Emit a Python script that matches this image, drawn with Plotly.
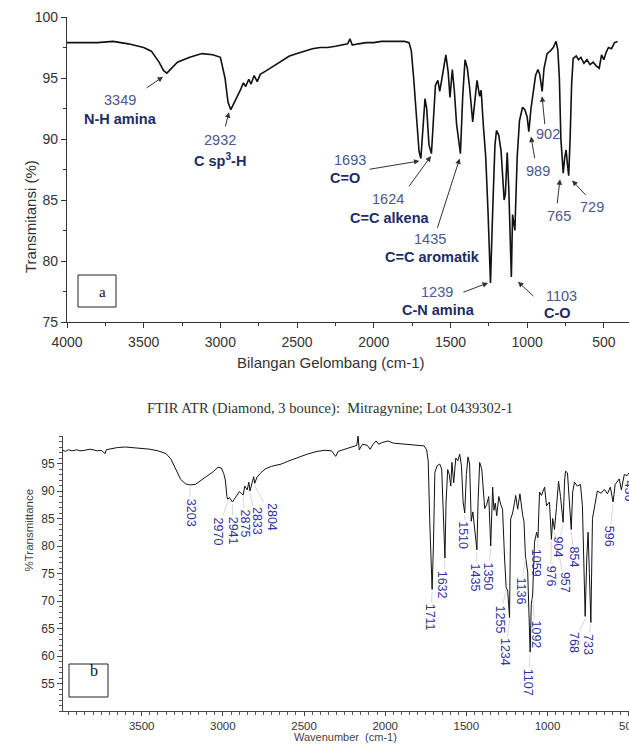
import numpy as np
import plotly.graph_objects as go

W, H = 629, 751

# ---------------- Spectrum (a): wavenumber (cm-1) vs transmittance (%) ----------------
a_wn = [4000, 3900, 3800, 3700, 3600, 3500, 3450, 3400, 3370, 3349, 3320, 3280, 3200, 3120,
        3050, 3000, 2970, 2950, 2932, 2915, 2890, 2870, 2850, 2835, 2815, 2800, 2780, 2760,
        2740, 2700, 2650, 2600, 2550, 2500, 2450, 2400, 2350, 2300, 2250, 2200, 2170, 2155,
        2140, 2100, 2050, 2000, 1950, 1900, 1850, 1800, 1770, 1755, 1740, 1720, 1705, 1693,
        1680, 1666, 1655, 1640, 1624, 1610, 1598, 1582, 1570, 1555, 1530, 1515, 1503, 1488,
        1475, 1460, 1445, 1435, 1420, 1405, 1390, 1375, 1355, 1340, 1327, 1310, 1300, 1285,
        1270, 1255, 1239, 1225, 1210, 1200, 1185, 1170, 1150, 1142, 1130, 1120, 1103, 1095,
        1088, 1080, 1065, 1050, 1030, 1015, 1000, 989, 975, 960, 945, 930, 918, 902, 890,
        870, 850, 830, 812, 800, 790, 780, 765, 755, 746, 738, 729, 720, 710, 700, 680, 665,
        650, 630, 610, 590, 570, 550, 530, 515, 500, 485, 470, 450, 430, 410]
a_T = [97.9, 97.9, 97.9, 98.0, 97.8, 97.5, 97.2, 96.3, 95.6, 95.4, 95.8, 96.3, 96.7, 97.0,
       96.9, 96.7, 95.0, 93.0, 92.4, 92.8, 93.5, 94.0, 94.6, 94.3, 94.9, 94.5, 95.2, 94.7,
       95.3, 95.6, 96.0, 96.4, 96.8, 97.0, 97.2, 97.4, 97.5, 97.5, 97.6, 97.7, 97.8, 98.2,
       97.7, 97.8, 97.9, 97.9, 98.0, 98.0, 98.0, 98.0, 97.9, 97.2, 95.0, 91.5, 89.0, 88.4,
       90.5, 93.3, 92.5, 89.5, 88.8, 91.5, 94.4, 94.8, 93.9, 95.0, 96.9, 95.5, 93.4, 95.7,
       94.0, 91.2, 89.5, 88.8, 93.5, 96.5, 95.8, 94.2, 91.4, 93.0, 94.8, 93.5, 94.0, 91.0,
       88.5, 84.0, 78.2, 84.0, 89.5, 90.7, 90.3, 89.0, 85.0, 85.5, 88.9, 86.0, 78.7, 83.8,
       83.0, 82.5, 88.5, 91.5, 92.6, 92.4, 91.8, 90.6, 92.5, 94.0, 95.2, 95.7, 95.3, 93.9, 95.8,
       97.0, 97.2, 97.5, 98.0, 97.3, 95.0, 90.0, 87.2, 88.5, 89.1, 88.0, 87.0, 90.0, 94.5, 96.6,
       96.8, 96.5, 96.7, 96.2, 96.5, 96.1, 96.3, 96.0, 95.8, 96.9, 96.5, 97.1, 97.5, 97.4, 97.9,
       98.0]

# Peak assignments for spectrum (a)
a_peaks = [3349, 2932, 1693, 1624, 1435, 1239, 1103, 989, 902, 765, 729]
a_groups = ["N-H amina", "C sp<sup>3</sup>-H", "C=O", "C=C alkena", "C=C aromatik",
            "C-N amina", "C-O", "", "", "", ""]

# ---------------- Spectrum (b): Mitragynine, FTIR ATR ----------------
b_wn = [3985, 3970, 3950, 3930, 3900, 3880, 3850, 3820, 3800, 3775, 3750, 3725, 3718, 3700,
        3650, 3600, 3550, 3500, 3450, 3400, 3350, 3320, 3290, 3260, 3230, 3203, 3170, 3130,
        3100, 3060, 3030, 3010, 2995, 2985, 2975, 2970, 2960, 2950, 2941, 2930, 2915, 2898,
        2885, 2875, 2865, 2850, 2840, 2833, 2820, 2810, 2804, 2790, 2770, 2740, 2700, 2640,
        2600, 2540, 2480, 2420, 2370, 2330, 2305, 2290, 2250, 2200, 2175, 2167, 2160, 2140,
        2110, 2093, 2075, 2056, 2040, 2020, 1983, 1950, 1900, 1850, 1800, 1760, 1745, 1735,
        1725, 1711, 1703, 1694, 1680, 1664, 1652, 1642, 1632, 1625, 1615, 1605, 1596, 1589,
        1578, 1565, 1553, 1541, 1530, 1520, 1510, 1500, 1490, 1480, 1470, 1460, 1450, 1442,
        1435, 1428, 1418, 1405, 1395, 1387, 1375, 1362, 1350, 1338, 1330, 1322, 1313, 1300,
        1288, 1277, 1265, 1255, 1245, 1234, 1227, 1215, 1203, 1196, 1184, 1170, 1153, 1145,
        1136, 1122, 1107, 1100, 1092, 1080, 1067, 1059, 1049, 1037, 1018, 1006, 988, 976,
        968, 957, 945, 932, 920, 904, 895, 889, 877, 865, 854, 845, 834, 816, 797, 785, 768,
        758, 750, 742, 733, 723, 711, 693, 670, 650, 631, 613, 596, 583, 558, 545, 527, 510,
        498]
b_T = [97.4, 97.2, 97.5, 97.3, 97.5, 97.3, 97.4, 97.6, 97.5, 97.3, 97.4, 96.8, 97.5, 97.6,
       97.9, 98.0, 97.9, 97.8, 97.6, 97.3, 96.8, 95.8, 93.8, 92.1, 91.3, 91.1, 91.2, 92.0,
       92.6, 93.5, 94.3, 94.2, 93.2, 92.0, 89.0, 88.5, 88.8, 88.3, 88.0, 88.5, 89.2, 89.9,
       89.5, 89.3, 90.9, 90.2, 91.6, 90.0, 91.5, 92.6, 91.4, 92.5, 93.2, 94.0, 94.5, 94.9,
       95.4, 96.1, 96.7, 97.2, 97.4, 97.3, 96.3, 97.2, 97.6, 98.1, 98.3, 100.0, 97.5, 98.5,
       98.3, 97.6, 98.5, 99.1, 98.5, 98.8, 99.1, 98.7, 98.6, 98.5, 98.4, 98.2, 97.5, 95.5,
       84.0, 72.1, 80.0, 93.4, 94.6, 94.9, 94.0, 85.0, 77.8, 88.0, 93.9, 93.0, 90.9, 95.2,
       91.5, 96.0, 95.5, 96.7, 94.5, 88.0, 86.0, 93.0, 96.2, 94.9, 84.5, 86.2, 83.8, 81.5,
       79.3, 88.0, 95.2, 94.0, 89.5, 86.8, 87.5, 89.0, 80.0, 90.7, 86.5, 87.8, 85.5, 89.0,
       87.5, 86.7, 78.0, 72.5, 71.8, 67.0, 84.9, 86.0, 87.9, 89.2, 86.7, 89.5, 85.6, 84.5,
       78.1, 75.2, 60.7, 69.5, 70.9, 80.7, 82.5, 81.5, 89.8, 89.2, 90.7, 87.3, 88.0, 81.2,
       85.0, 83.0, 87.0, 91.8, 89.0, 84.3, 91.8, 93.6, 93.3, 88.0, 83.0, 89.8, 91.6, 90.9,
       91.2, 87.3, 67.2, 78.0, 82.5, 75.0, 66.1, 85.0, 87.3, 90.0, 89.6, 90.3, 89.5, 90.7,
       88.0, 91.2, 92.2, 90.2, 93.0, 92.8, 93.3]

# Picked peaks for spectrum (b)
b_peaks = [3203, 2970, 2941, 2875, 2833, 2804, 1711, 1632, 1510, 1435, 1350, 1255, 1234,
           1136, 1107, 1092, 1059, 976, 957, 904, 854, 768, 733, 596]

TITLE_B = "FTIR ATR (Diamond, 3 bounce):  Mitragynine; Lot 0439302-1"


def px(x):
    return x / W


def py(y):
    return 1 - y / H


SANS = "Liberation Sans, Arial, sans-serif"
SERIF = "Liberation Serif, Times New Roman, serif"

fig = go.Figure()
fig.add_trace(go.Scatter(x=a_wn, y=a_T, mode="lines", xaxis="x", yaxis="y",
                         line=dict(color="#111111", width=1.6), showlegend=False))
fig.add_trace(go.Scatter(x=b_wn, y=b_T, mode="lines", xaxis="x2", yaxis="y2",
                         line=dict(color="#111111", width=1.0), showlegend=False))

annotations = []
shapes = []

# ---- labels and arrows of spectrum (a) ----
# (number position, group position, arrow tail, arrow head) in data units
a_layout = {
    3349: ((3654, 93.2), (3654, 91.6), (3491, 94.1), (3374, 95.1)),
    2932: ((3002, 89.9), (3002, 88.3), (2970, 90.9), (2944, 92.2)),
    1693: ((2155, 88.3), (2187, 86.8), (2037, 87.5), (1702, 88.2)),
    1624: ((1907, 85.1), (1894, 83.5), (1777, 86.0), (1627, 88.6)),
    1435: ((1633, 81.8), (1620, 80.3), (1588, 82.6), (1440, 88.4)),
    1239: ((1588, 77.5), (1581, 76.0), (1425, 77.4), (1255, 78.2)),
    1103: ((773, 77.1), (799, 75.7), (949, 77.0), (1060, 78.3)),
    989: ((929, 87.4), None, (949, 88.3), (975, 90.2)),
    902: ((864, 90.4), None, (884, 91.1), (903, 93.5)),
    765: ((792, 83.7), None, (805, 84.6), (786, 86.7)),
    729: ((577, 84.4), None, (610, 85.3), (707, 86.6)),
}
for wn, grp in zip(a_peaks, a_groups):
    num_pos, grp_pos, tail, head = a_layout[wn]
    annotations.append(dict(x=num_pos[0], y=num_pos[1], xref="x", yref="y", text=str(wn),
                            showarrow=False, font=dict(family=SANS, size=14.5, color="#4a5792")))
    if grp_pos is not None and grp:
        annotations.append(dict(x=grp_pos[0], y=grp_pos[1], xref="x", yref="y",
                                text="<b>%s</b>" % grp, showarrow=False,
                                font=dict(family=SANS, size=14.5, color="#222b66")))
    annotations.append(dict(x=head[0], y=head[1], ax=tail[0], ay=tail[1], xref="x", yref="y",
                            axref="x", ayref="y", text="", showarrow=True, arrowhead=2,
                            arrowsize=1.1, arrowwidth=1, arrowcolor="#333333"))

# ---- rotated peak labels of spectrum (b) ----
b_label_pos = {
    3203: (3199, 86.1), 2970: (3033, 82.7), 2941: (2941, 82.7), 2875: (2861, 84.0),
    2833: (2794, 84.5), 2804: (2701, 85.2), 1711: (1719, 67.0), 1632: (1645, 73.0),
    1510: (1522, 82.0), 1435: (1448, 74.3), 1350: (1368, 74.5), 1255: (1295, 66.7),
    1234: (1258, 60.8), 1136: (1166, 71.8), 1107: (1123, 55.2), 1092: (1074, 64.0),
    1059: (1067, 77.0), 976: (981, 74.5), 957: (896, 73.4), 904: (938, 79.8),
    854: (834, 78.0), 768: (836, 62.5), 733: (754, 62.1), 596: (619, 81.8),
}
b_wn_sorted = np.array(b_wn[::-1], dtype=float)
b_T_sorted = np.array(b_T[::-1], dtype=float)
for wn in b_peaks:
    t_peak = float(np.interp(wn, b_wn_sorted, b_T_sorted))
    lx, ly = b_label_pos[wn]
    annotations.append(dict(x=wn, y=t_peak - 0.4, ax=lx, ay=ly, xref="x2", yref="y2",
                            axref="x2", ayref="y2", text=str(wn), textangle=90,
                            showarrow=True, arrowhead=0, arrowwidth=0.7,
                            arrowcolor="#c3c6d6",
                            font=dict(family=SANS, size=12.5, color="#2f31a0")))
# label running off the right edge
annotations.append(dict(x=px(629), y=py(503), xref="paper", yref="paper", text="436",
                        textangle=90, showarrow=False, xanchor="center",
                        font=dict(family=SANS, size=12.5, color="#2f31a0")))

# ---- axis titles and panel title ----
annotations += [
    dict(x=px(20), y=py(158), xref="paper", yref="paper", text="Transmitansi (%)",
         textangle=-90, showarrow=False, font=dict(family=SANS, size=15, color="#333333")),
    dict(x=px(331), y=py(362), xref="paper", yref="paper", text="Bilangan Gelombang (cm-1)",
         showarrow=False, font=dict(family=SANS, size=15, color="#333333")),
    dict(x=px(20), y=py(574), xref="paper", yref="paper", text="%Transmittance",
         textangle=-90, showarrow=False, font=dict(family=SANS, size=11.5, color="#444444")),
    dict(x=px(345), y=py(745), xref="paper", yref="paper", text="Wavenumber  (cm-1)",
         showarrow=False, font=dict(family=SANS, size=11, color="#444444")),
    dict(x=px(330), y=py(408), xref="paper", yref="paper", text=TITLE_B,
         showarrow=False, font=dict(family=SERIF, size=14.5, color="#333333")),
    dict(x=px(97), y=py(292), xref="paper", yref="paper", text="a",
         showarrow=False, font=dict(family=SERIF, size=15, color="#111111")),
    dict(x=px(88), y=py(681), xref="paper", yref="paper", text="b",
         showarrow=False, font=dict(family=SERIF, size=16, color="#111111")),
]

# ---- panel tag boxes ----
shapes += [
    dict(type="rect", xref="paper", yref="paper", x0=px(78), x1=px(116), y0=py(307),
         y1=py(275), line=dict(color="#222222", width=1)),
    dict(type="rect", xref="paper", yref="paper", x0=px(69), x1=px(108), y0=py(697),
         y1=py(664), line=dict(color="#222222", width=1)),
]

axis_common = dict(showgrid=False, zeroline=False, showline=True, ticks="outside",
                   mirror=False, automargin=False)

fig.update_layout(
    width=W, height=H, margin=dict(l=0, r=0, t=0, b=0, autoexpand=False),
    paper_bgcolor="white", plot_bgcolor="white", showlegend=False,
    xaxis=dict(domain=[px(67), 1.0], range=[4000, 336], anchor="y", tick0=500, dtick=500,
               linecolor="#333333", linewidth=1.2, tickcolor="#333333", ticklen=5,
               ticklabelstandoff=2,
               minor=dict(dtick=250, tick0=0, ticklen=3, tickcolor="#333333", ticks="outside"),
               tickfont=dict(family=SANS, size=14, color="#333333"), **axis_common),
    yaxis=dict(domain=[py(322), py(17)], range=[75, 100], anchor="x", tick0=75, dtick=5,
               linecolor="#333333", linewidth=1.2, tickcolor="#333333", ticklen=5,
               minor=dict(dtick=2.5, tick0=75, ticklen=3, tickcolor="#333333", ticks="outside"),
               tickfont=dict(family=SANS, size=14, color="#333333"), **axis_common),
    xaxis2=dict(domain=[px(63), 1.0], range=[3985, 498], anchor="y2", tick0=500, dtick=500,
                linecolor="#444444", linewidth=1, tickcolor="#444444", ticklen=4,
                ticklabeloverflow="allow",
                minor=dict(dtick=50, tick0=0, ticklen=3, tickcolor="#555555", ticks="outside"),
                tickfont=dict(family=SANS, size=11.5, color="#333333"), **axis_common),
    yaxis2=dict(domain=[py(711), py(436)], range=[50, 100], anchor="x2",
                tickmode="array", tickvals=[55, 60, 65, 70, 75, 80, 85, 90, 95],
                linecolor="#444444", linewidth=1, tickcolor="#444444", ticklen=5,
                minor=dict(tickmode="linear", dtick=1, tick0=50, ticklen=3,
                           tickcolor="#555555", ticks="outside"),
                tickfont=dict(family=SANS, size=12, color="#333333"), **axis_common),
    annotations=annotations, shapes=shapes,
)

fig.write_html("out.html")
